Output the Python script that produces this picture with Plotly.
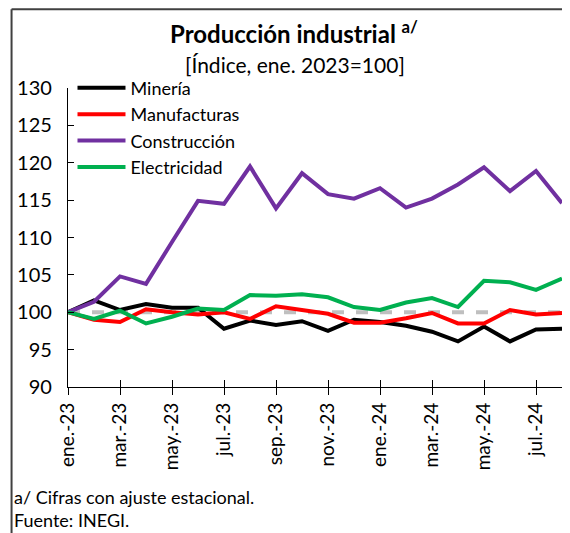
import plotly.graph_objects as go

months = ["ene.-23", "feb.-23", "mar.-23", "abr.-23", "may.-23", "jun.-23", "jul.-23", "ago.-23",
          "sep.-23", "oct.-23", "nov.-23", "dic.-23", "ene.-24", "feb.-24", "mar.-24", "abr.-24",
          "may.-24", "jun.-24", "jul.-24", "ago.-24"]

mineria = [100.0, 101.6, 100.3, 101.1, 100.6, 100.6, 97.8, 98.9, 98.3, 98.8,
           97.5, 99.0, 98.7, 98.2, 97.4, 96.1, 98.1, 96.1, 97.7, 97.8]
manufacturas = [100.0, 99.0, 98.7, 100.4, 100.0, 99.7, 100.0, 99.1, 100.8, 100.3,
                99.8, 98.6, 98.6, 99.2, 99.9, 98.5, 98.5, 100.3, 99.7, 99.9]
construccion = [100.0, 101.4, 104.8, 103.8, 109.4, 114.9, 114.5, 119.5, 113.9, 118.6,
                115.8, 115.2, 116.6, 114.0, 115.2, 117.1, 119.4, 116.2, 118.9, 114.6]
electricidad = [100.0, 99.1, 100.2, 98.5, 99.4, 100.5, 100.3, 102.3, 102.2, 102.4,
                102.0, 100.7, 100.3, 101.3, 101.9, 100.7, 104.2, 104.0, 103.0, 104.5]
base = [100.0] * len(months)

series = [
    ("Minería", mineria, "#000000"),
    ("Manufacturas", manufacturas, "#ff0000"),
    ("Construcción", construccion, "#7030a0"),
    ("Electricidad", electricidad, "#00b050"),
]

ytick_vals = [90, 95, 100, 105, 110, 115, 120, 125, 130]
xtick_idx = list(range(0, len(months), 2))
xtick_text = [months[i] for i in xtick_idx]

FONT = "Lato"
xs = list(range(len(months)))

fig = go.Figure()
fig.add_trace(go.Scatter(x=xs, y=base, mode="lines", showlegend=False,
                         line=dict(color="#bfbfbf", width=4, dash="dash"), hoverinfo="skip"))
for name, vals, color in series:
    fig.add_trace(go.Scatter(x=xs, y=vals, mode="lines", name=name,
                             line=dict(color=color, width=4)))

# invisible trace on overlay axis for inside ticks (cross ticks effect)
fig.add_trace(go.Scatter(x=[0], y=[100], xaxis="x2", mode="markers",
                         marker=dict(opacity=0), showlegend=False, hoverinfo="skip"))

OFF = 8  # page body margin
PL, PR, PT, PB = 67.5, 562, 87.5, 387.5  # plot area in page pixels
W, H = 570 - OFF, 533 - OFF
L = PL - OFF
T = PT - OFF
R = W - (PR - OFF)
B = H - (PB - OFF)
pw = PR - PL
ph = PB - PT

def px_x(x):
    return (x - PL) / pw

def px_y(y):
    return (PB - y) / ph

fig.update_layout(
    width=W, height=H,
    margin=dict(l=L, r=R, t=T, b=B, pad=0),
    paper_bgcolor="white", plot_bgcolor="white",
    font=dict(family=FONT, color="#000000", size=18),
    showlegend=True,
    legend=dict(x=px_x(72), y=px_y(69), xanchor="left", yanchor="top",
                bgcolor="rgba(0,0,0,0)", font=dict(size=18, family=FONT),
                tracegroupgap=0, itemwidth=48),
    xaxis=dict(range=[0, len(months) - 1], tickmode="array", tickvals=xtick_idx,
               ticktext=xtick_text, tickangle=-90, ticks="outside", ticklen=7,
               tickcolor="#000", tickwidth=1.3, showline=True, linecolor="#000",
               linewidth=1.3, showgrid=False, zeroline=False,
               tickfont=dict(size=19, family=FONT)),
    xaxis2=dict(overlaying="x", range=[0, len(months) - 1], tickmode="array",
                tickvals=xtick_idx, ticks="inside", ticklen=7, tickcolor="#000",
                tickwidth=1.3, showticklabels=False, showgrid=False, zeroline=False,
                side="bottom", anchor="y"),
    yaxis=dict(range=[90, 130], tickmode="array", tickvals=ytick_vals,
               ticks="inside", ticklen=6, tickcolor="#000", tickwidth=1.3,
               showline=True, linecolor="#000", linewidth=1.3, showgrid=False,
               zeroline=False, ticklabelstandoff=11,
               tickfont=dict(size=20, family=FONT)),
)

fig.add_annotation(text="<b>Producción industrial</b> <b><sup>a/</sup></b>", xref="paper", yref="paper",
                   x=px_x(294), y=px_y(31), xanchor="center", yanchor="middle",
                   showarrow=False, font=dict(size=24, family=FONT, color="#000", weight=900))
fig.add_annotation(text="[Índice, ene. 2023=100]", xref="paper", yref="paper",
                   x=px_x(295), y=px_y(64), xanchor="center", yanchor="middle",
                   showarrow=False, font=dict(size=21, family=FONT, color="#000"))
fig.add_annotation(text="a/ Cifras con ajuste estacional.", xref="paper", yref="paper",
                   x=px_x(11), y=px_y(498), xanchor="left", yanchor="middle",
                   showarrow=False, font=dict(size=18, family=FONT, color="#000"))
fig.add_annotation(text="Fuente: INEGI.", xref="paper", yref="paper",
                   x=px_x(11), y=px_y(521), xanchor="left", yanchor="middle",
                   showarrow=False, font=dict(size=18, family=FONT, color="#000"))

# outer frame
fig.add_shape(type="line", xref="paper", yref="paper", x0=px_x(11), x1=px_x(580),
              y0=px_y(8.5), y1=px_y(8.5), line=dict(color="#404040", width=2))
fig.add_shape(type="line", xref="paper", yref="paper", x0=px_x(11), x1=px_x(11),
              y0=px_y(8.5), y1=px_y(545), line=dict(color="#404040", width=2))

fig.write_html("out.html")
